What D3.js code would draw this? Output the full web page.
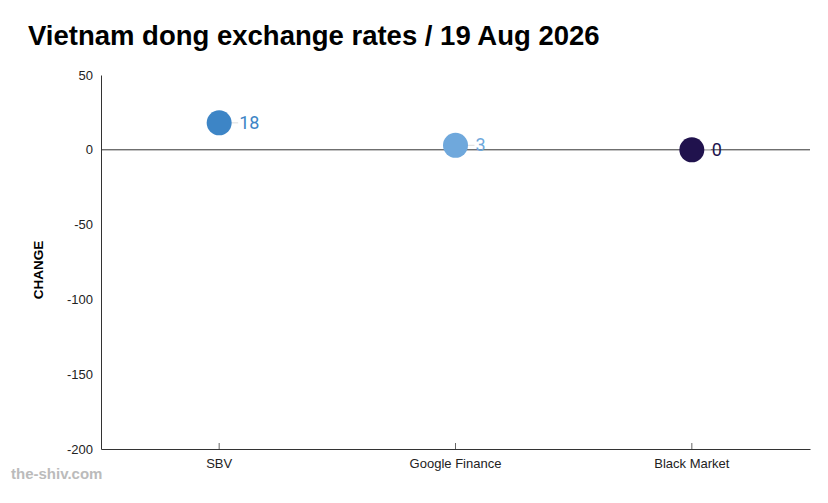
<!DOCTYPE html>
<html><head><meta charset="utf-8">
<script src="https://cdn.jsdelivr.net/npm/d3@7"></script>
<style>body{margin:0;background:#fff}svg{display:block;font-family:"Liberation Sans",Arial,sans-serif}</style>
</head><body><svg id="c" width="828" height="503"></svg>
<script>
const categories = ["SBV", "Google Finance", "Black Market"];
const values = [18, 3, 0];
const colors = ["#3d85c6", "#6fa8dc", "#20124d"];
const yTicks = [50, 0, -50, -100, -150, -200];
const title = "Vietnam dong exchange rates / 19 Aug 2026";

const svg = d3.select("#c");
const m = {l: 101, r: 810, t: 75, b: 449};
const x = d3.scaleBand().domain(categories).range([m.l, m.r]);
const y = d3.scaleLinear().domain([-200, 50]).range([m.b, m.t]);

svg.append("text").attr("x", 28).attr("y", 45).attr("font-size", 27.5).attr("font-weight", "bold").attr("fill", "#000").text(title);

// y axis
const ya = svg.append("g").attr("transform", `translate(${m.l},0)`)
  .call(d3.axisLeft(y).tickValues(yTicks).tickFormat(d => String(d)).tickSize(0).tickPadding(8));
ya.select(".domain").attr("stroke", "#333");
ya.selectAll("text").attr("font-size", 13).attr("fill", "#222");

// x axis
const xa = svg.append("g").attr("transform", `translate(0,${m.b})`).call(d3.axisBottom(x).tickSize(-6).tickSizeOuter(0).tickPadding(10));
xa.select(".domain").attr("stroke", "#333");
xa.selectAll(".tick line").attr("stroke", "#666");
xa.selectAll("text").attr("font-size", 13).attr("fill", "#222");

// zero line
svg.append("line").attr("x1", m.l).attr("x2", m.r).attr("y1", y(0)).attr("y2", y(0)).attr("stroke", "#333").attr("stroke-width", 1);

svg.append("text").attr("transform", `translate(43,${(m.t + m.b) / 2 + 8}) rotate(-90)`).attr("text-anchor", "middle")
  .attr("font-size", 13.5).attr("font-weight", "bold").text("CHANGE");

const data = categories.map((c, i) => ({c, v: values[i], col: colors[i]}));
const g = svg.append("g");
g.selectAll("line.lead").data(data).join("line")
  .attr("x1", d => x(d.c) + x.bandwidth() / 2 + 12).attr("x2", d => x(d.c) + x.bandwidth() / 2 + 19)
  .attr("y1", d => y(d.v)).attr("y2", d => y(d.v)).attr("stroke", "#ddd");
g.selectAll("circle").data(data).join("circle")
  .attr("cx", d => x(d.c) + x.bandwidth() / 2).attr("cy", d => y(d.v)).attr("r", 12.5).attr("fill", d => d.col);
g.selectAll("text.lab").data(data).join("text")
  .attr("x", d => x(d.c) + x.bandwidth() / 2 + 20).attr("y", d => y(d.v) + 6)
  .attr("font-size", 18).attr("font-family", "Roboto, sans-serif").attr("fill", d => d.col).text(d => d.v);

svg.append("text").attr("x", 11).attr("y", 479).attr("font-size", 15).attr("font-weight", "bold").attr("fill", "#bbb").text("the-shiv.com");
</script></body></html>
